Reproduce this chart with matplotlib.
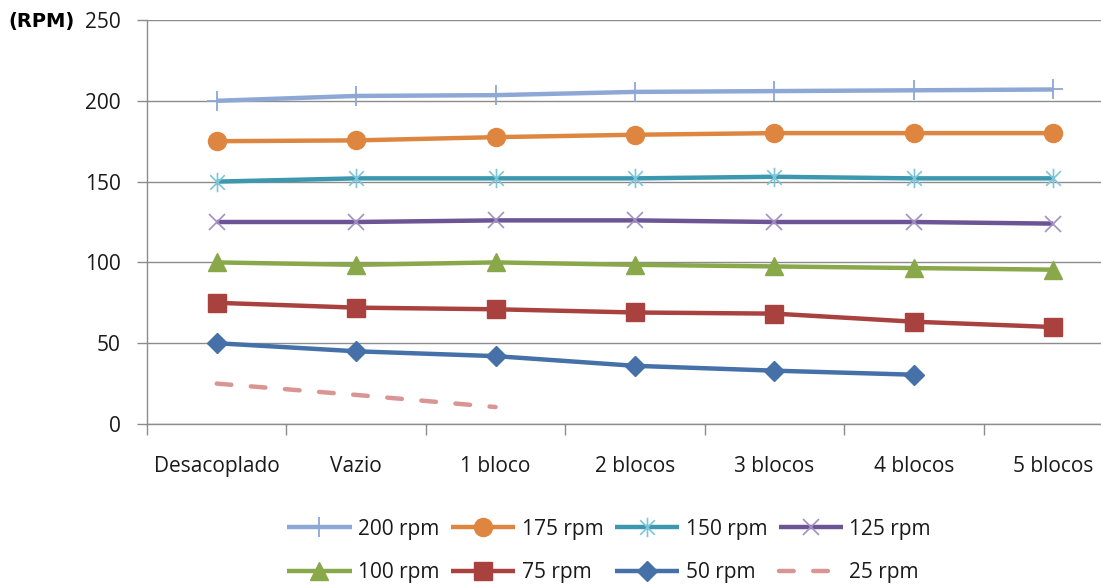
import matplotlib
matplotlib.use("Agg")
import matplotlib.pyplot as plt
import numpy as np
from matplotlib.path import Path

categories = ["Desacoplado", "Vazio", "1 bloco", "2 blocos", "3 blocos", "4 blocos", "5 blocos"]
y_ticks = [0, 50, 100, 150, 200, 250]

rpm_200 = [200, 203, 203.5, 205.5, 206, 206.5, 207]
rpm_175 = [175, 175.5, 177.5, 179, 180, 180, 180]
rpm_150 = [150, 152, 152, 152, 153, 152, 152]
rpm_125 = [125, 125, 126, 126, 125, 125, 124]
rpm_100 = [100, 98.5, 100, 98.5, 97.5, 96.5, 95.5]
rpm_75 = [75, 72, 71, 69, 68.3, 63.3, 60]
rpm_50 = [50, 45, 42, 36, 33, 30.5]
rpm_25 = [25, 18, 10.5]

# six-armed asterisk: vertical stroke plus an X
star_path = Path(
    [(0, -1), (0, 1), (-0.75, -0.75), (0.75, 0.75), (-0.75, 0.75), (0.75, -0.75)],
    [Path.MOVETO, Path.LINETO, Path.MOVETO, Path.LINETO, Path.MOVETO, Path.LINETO],
)

FONT = "Open Sans"
FS = 15

fig = plt.figure(figsize=(11.01, 5.88), dpi=100)
ax = fig.add_axes([147 / 1101, 164 / 588, 976 / 1101, 404 / 588])

lw = 3.2
series = [
    ("200 rpm", rpm_200, dict(color="#8EA8D6", marker="+", ms=14, mew=1.3, mec="#8EA8D6")),
    ("175 rpm", rpm_175, dict(color="#DE8640", marker="o", ms=13, mec="#DE8640")),
    ("150 rpm", rpm_150, dict(color="#3B98AE", marker=star_path, ms=14, mew=1.2, mec="#7CC5D8")),
    ("125 rpm", rpm_125, dict(color="#6D5495", marker="x", ms=11, mew=1.2, mec="#A391C4")),
    ("100 rpm", rpm_100, dict(color="#88A84A", marker="^", ms=13, mec="#88A84A")),
    ("75 rpm", rpm_75, dict(color="#A9413F", marker="s", ms=13, mec="#A9413F")),
    ("50 rpm", rpm_50, dict(color="#4670A8", marker="D", ms=10.5, mec="#4670A8")),
]

handles = {}
for label, vals, style in series:
    x = np.arange(len(vals))
    (h,) = ax.plot(x, vals, lw=lw, label=label, zorder=3, solid_capstyle="butt", **style)
    handles[label] = h

x25 = np.arange(len(rpm_25))
(h25,) = ax.plot(x25, rpm_25, lw=lw, color="#D99594", label="25 rpm", zorder=3,
                 dash_capstyle="round")
h25.set_dashes((3.3, 4.4))
handles["25 rpm"] = h25

ax.set_xlim(-0.5, 6.5)
ax.set_ylim(0, 250)
ax.set_yticks(y_ticks)
ax.set_yticklabels([str(v) for v in y_ticks])
ax.yaxis.grid(True, color="#8C8C8C", lw=1.0)
ax.set_axisbelow(True)

# category boundaries carry the tick marks, category centres carry the labels
ax.set_xticks(np.arange(-0.5, 7.0, 1.0))
ax.set_xticklabels([])
ax.set_xticks(np.arange(len(categories)), minor=True)
ax.set_xticklabels(categories, minor=True)
ax.tick_params(axis="x", which="major", length=8, width=1, color="#8C8C8C", direction="out")
ax.tick_params(axis="x", which="minor", length=0, pad=23, labelsize=FS, labelcolor="#1a1a1a")
ax.tick_params(axis="y", length=7, width=1, color="#8C8C8C", pad=12, labelsize=FS,
               labelcolor="#1a1a1a")

for s in ["top", "right"]:
    ax.spines[s].set_visible(False)
for s in ["left", "bottom"]:
    ax.spines[s].set_color("#8C8C8C")
    ax.spines[s].set_linewidth(1.0)

for t in ax.get_xticklabels(minor=True) + ax.get_yticklabels():
    t.set_fontfamily(FONT)

fig.text(8 / 1101, 1 - 21 / 588, "(RPM)", fontsize=14, fontweight="bold",
         family="DejaVu Sans", ha="left", va="center")

order = ["200 rpm", "100 rpm", "175 rpm", "75 rpm", "150 rpm", "50 rpm", "125 rpm", "25 rpm"]
leg = fig.legend([handles[k] for k in order], order, loc="center",
                 bbox_to_anchor=(609 / 1101, 1 - 551 / 588), ncol=4, frameon=False,
                 prop={"family": FONT, "size": FS}, handlelength=3.1, handletextpad=0.3,
                 columnspacing=0.55, labelspacing=1.1, markerscale=1.0)
for t in leg.get_texts():
    t.set_color("#1a1a1a")

fig.savefig("out.png", dpi=100)
